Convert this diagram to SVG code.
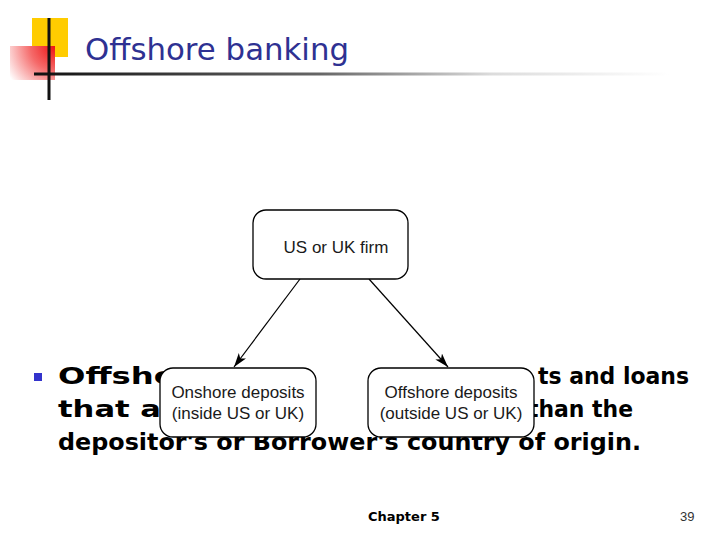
<svg xmlns="http://www.w3.org/2000/svg" width="720" height="540" viewBox="0 0 720 540">
<defs>
<radialGradient id="redg" cx="55" cy="46" r="55" gradientUnits="userSpaceOnUse">
<stop offset="0" stop-color="#ee1111"/>
<stop offset="0.45" stop-color="#f56a6a"/>
<stop offset="1" stop-color="#ffffff"/>
</radialGradient>
<linearGradient id="lineg" x1="34" y1="0" x2="670" y2="0" gradientUnits="userSpaceOnUse">
<stop offset="0" stop-color="#111"/>
<stop offset="0.45" stop-color="#666"/>
<stop offset="0.72" stop-color="#dcdcdc"/>
<stop offset="1" stop-color="#fff"/>
</linearGradient>
<marker id="arr" viewBox="0 0 14 9" refX="14" refY="4.5" markerWidth="14" markerHeight="9" markerUnits="userSpaceOnUse" orient="auto">
<path d="M0,0 L14,4.5 L0,9 L3.5,4.5 Z" fill="#000"/>
</marker>
<style>
.title{font-family:"Comic Sans MS","DejaVu Sans",sans-serif;font-size:30px;fill:#2e3192}
.body{font-family:"Comic Sans MS","DejaVu Sans",sans-serif;font-size:23px;font-weight:bold;fill:#000}
.box{fill:#fff;stroke:#000;stroke-width:1.3}
.bt{font-family:"Liberation Sans",Arial,sans-serif;font-size:17px;fill:#1a1a1a;text-anchor:middle}
.conn{stroke:#000;stroke-width:1.2;fill:none;marker-end:url(#arr)}
.foot{font-family:"Comic Sans MS","DejaVu Sans",sans-serif;font-size:13px;font-weight:bold;fill:#000}
.num{font-family:"Liberation Sans",sans-serif;font-size:13px;fill:#333}
</style>
</defs>
<rect width="720" height="540" fill="#fff"/>
<g id="decor">
<rect x="32" y="18" width="36" height="39" fill="#ffcc00"/>
<rect x="10" y="46" width="45" height="34" fill="url(#redg)"/>
<rect x="34" y="72.5" width="636" height="3" fill="url(#lineg)"/>
<rect x="47.5" y="18" width="3" height="82" fill="#111"/>
</g>
<text class="title" x="85" y="60" textLength="264" lengthAdjust="spacingAndGlyphs">Offshore banking</text>
<g id="bodytext">
<rect x="34" y="373" width="8" height="8" fill="#3333cc"/>
<text class="body" x="58" y="384" textLength="118" lengthAdjust="spacingAndGlyphs">Offsho</text>
<text class="body" x="538" y="384" textLength="151" lengthAdjust="spacingAndGlyphs">ts and loans</text>
<text class="body" x="58" y="417" textLength="118" lengthAdjust="spacingAndGlyphs">that ar</text>
<text class="body" x="528" y="417" textLength="105" lengthAdjust="spacingAndGlyphs">than the</text>
<text class="body" x="58" y="450" textLength="583" lengthAdjust="spacingAndGlyphs">depositor's or Borrower's country of origin.</text>
</g>
<g id="connectors">
<line class="conn" x1="300" y1="279" x2="234" y2="367"/>
<line class="conn" x1="369" y1="279" x2="448" y2="367"/>
</g>
<g id="us-uk-firm">
<rect class="box" x="253" y="210" width="155" height="69" rx="13"/>
<text class="bt" x="336" y="253">US or UK firm</text>
</g>
<g id="onshore">
<rect class="box" x="160" y="368" width="156" height="69" rx="13"/>
<text class="bt" x="238" y="398">Onshore deposits</text>
<text class="bt" x="238" y="419">(inside US or UK)</text>
</g>
<g id="offshore">
<rect class="box" x="368" y="368" width="166" height="69" rx="13"/>
<text class="bt" x="451" y="398">Offshore deposits</text>
<text class="bt" x="451" y="419">(outside US or UK)</text>
</g>
<text class="foot" x="368" y="521">Chapter 5</text>
<text class="num" x="680" y="521">39</text>
</svg>
